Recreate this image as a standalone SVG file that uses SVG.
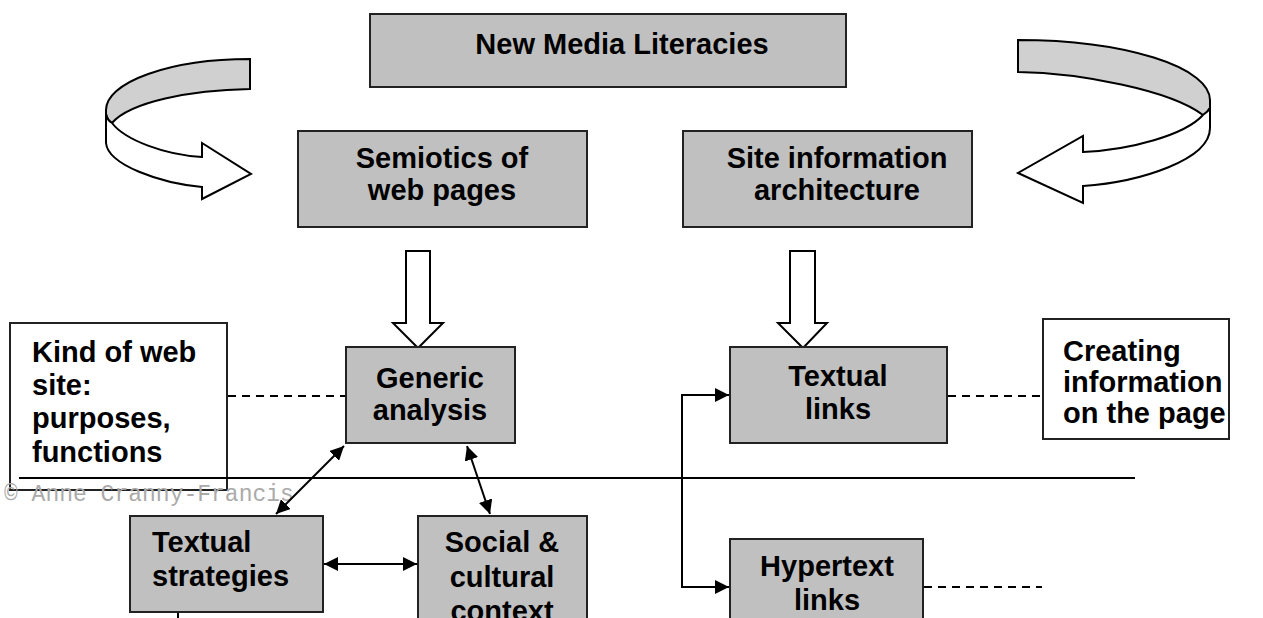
<svg xmlns="http://www.w3.org/2000/svg" width="1263" height="618" viewBox="0 0 1263 618">
<defs>
<style>
.box{fill:#c0c0c0;stroke:#222;stroke-width:2}
.wbox{fill:#fff;stroke:#222;stroke-width:2}
.t{font-family:"Liberation Sans",Arial,sans-serif;font-weight:bold;font-size:29px;fill:#000}
.c{text-anchor:middle}
.ln{stroke:#000;stroke-width:2;fill:none}
.dash{stroke:#000;stroke-width:2;stroke-dasharray:8 6;fill:none}
.blk{fill:#fff;stroke:#000;stroke-width:2;stroke-linejoin:miter}
.rib{fill:#d0d0d0;stroke:#000;stroke-width:2}
.copy{font-family:"Liberation Mono","Courier New",monospace;font-size:23px;fill:#aaa}
</style>
<marker id="ah" viewBox="0 0 10 10" refX="10" refY="5" markerWidth="7" markerHeight="7" markerUnits="strokeWidth" orient="auto-start-reverse">
<path d="M0,0 L10,5 L0,10 Z" fill="#000"/>
</marker>
</defs>

<g id="curl-left">
<path class="rib" d="M250,59 A144,51 0 0 0 106,110 L106,114 Q107,120 112,123 C130,102 190,90 250,89 Z"/>
<path class="blk" d="M106,114 Q107,120 112,123 C125,140 165,155 202,157 L202,143 L251,174 L202,199 L202,187 C160,183 108,165 106,143 Z"/>
</g>

<g id="curl-right">
<path class="rib" d="M1018,40 A192,60 0 0 1 1210,100 L1210,108 Q1208,112 1203,115 C1170,90 1080,73 1018,72 Z"/>
<path class="blk" d="M1210,108 Q1208,112 1203,115 C1185,135 1130,150 1083,152 L1083,136 L1018,173 L1083,203 L1083,186 C1140,182 1210,160 1210,128 Z"/>
</g>

<g id="block-arrows">
<path class="blk" d="M406,251 L430,251 L430,323 L443,323 L418,348 L393,323 L406,323 Z"/>
<path class="blk" d="M790,251 L815,251 L815,323 L827,323 L803,348 L778,323 L790,323 Z"/>
</g>

<g id="n-nml">
<rect class="box" x="370" y="14" width="476" height="73"/>
<text class="t c" x="622" y="54">New Media Literacies</text>
</g>

<g id="n-semiotics">
<rect class="box" x="298" y="131" width="289" height="96"/>
<text class="t c" x="442" y="168">Semiotics of</text>
<text class="t c" x="442" y="200">web pages</text>
</g>

<g id="n-site">
<rect class="box" x="683" y="131" width="289" height="96"/>
<text class="t c" x="837" y="168">Site information</text>
<text class="t c" x="837" y="200">architecture</text>
</g>

<g id="n-kind">
<rect class="wbox" x="10" y="323" width="217" height="167"/>
<text class="t" x="32" y="362">Kind of web</text>
<text class="t" x="32" y="395">site:</text>
<text class="t" x="32" y="428">purposes,</text>
<text class="t" x="32" y="462">functions</text>
</g>

<g id="n-generic">
<rect class="box" x="346" y="347" width="169" height="96"/>
<text class="t c" x="430" y="388">Generic</text>
<text class="t c" x="430" y="420">analysis</text>
</g>

<g id="n-textual-links">
<rect class="box" x="730" y="347" width="217" height="96"/>
<text class="t c" x="838" y="386">Textual</text>
<text class="t c" x="838" y="419">links</text>
</g>

<g id="n-creating">
<rect class="wbox" x="1043" y="319" width="186" height="120"/>
<text class="t" x="1063" y="361">Creating</text>
<text class="t" x="1063" y="392">information</text>
<text class="t" x="1063" y="423">on the page</text>
</g>

<g id="n-textual-strategies">
<rect class="box" x="130" y="516" width="193" height="96"/>
<text class="t" x="152" y="552">Textual</text>
<text class="t" x="152" y="586">strategies</text>
</g>

<g id="n-social">
<rect class="box" x="418" y="516" width="169" height="110"/>
<text class="t c" x="502" y="552">Social &amp;</text>
<text class="t c" x="502" y="587">cultural</text>
<text class="t c" x="502" y="621">context</text>
</g>

<g id="n-hypertext">
<rect class="box" x="730" y="539" width="193" height="90"/>
<text class="t c" x="827" y="576">Hypertext</text>
<text class="t c" x="827" y="610">links</text>
</g>

<text class="copy" x="4" y="501">© Anne Cranny-Francis</text>

<g id="connectors">
<line class="ln" x1="19" y1="478" x2="1135" y2="478"/>
<line class="dash" x1="228" y1="396" x2="345" y2="396"/>
<line class="dash" x1="948" y1="396" x2="1042" y2="396"/>
<line class="dash" x1="924" y1="587" x2="1042" y2="587"/>
<line class="ln" x1="344" y1="446" x2="276" y2="514" marker-start="url(#ah)" marker-end="url(#ah)"/>
<line class="ln" x1="467" y1="446" x2="490" y2="514" marker-start="url(#ah)" marker-end="url(#ah)"/>
<line class="ln" x1="324" y1="564" x2="417" y2="564" marker-start="url(#ah)" marker-end="url(#ah)"/>
<path class="ln" d="M729,395 L682,395 L682,587 L729,587" marker-start="url(#ah)" marker-end="url(#ah)"/>
<line class="ln" x1="178" y1="613" x2="178" y2="618"/>
</g>
</svg>
